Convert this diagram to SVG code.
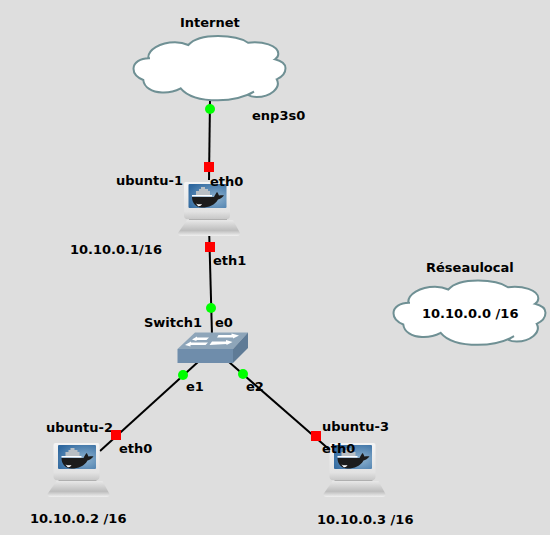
<svg xmlns="http://www.w3.org/2000/svg" width="550" height="535" viewBox="0 0 550 535">
<style>
text{font-family:"DejaVu Sans",sans-serif;font-weight:700;font-size:13px;fill:#000}
.cloud{fill:#fff;stroke:#6f9094;stroke-width:2}
.link{stroke:#000;stroke-width:2;fill:none}
.up{fill:#0f0}
.down{fill:#f00}
</style>
<defs>
<linearGradient id="lapBase" x1="0" y1="0" x2="0" y2="1"><stop offset="0" stop-color="#e8e8e8"/><stop offset=".65" stop-color="#bdbdbd"/><stop offset="1" stop-color="#f0f0f0"/></linearGradient>
<linearGradient id="lapFrame" x1="0" y1="0" x2="0" y2="1"><stop offset="0" stop-color="#f4f4f4"/><stop offset=".8" stop-color="#e2e2e2"/><stop offset="1" stop-color="#c8c8c8"/></linearGradient>
<radialGradient id="lapScreen" cx=".7" cy=".6" r=".8"><stop offset="0" stop-color="#8fb3cf"/><stop offset="1" stop-color="#2f689f"/></radialGradient>
<g id="laptop">
<path d="M189 216h38v5h-38z" fill="#b0b0b0"/>
<path d="M187 220h46l7 13q0 3-3 3h-56q-3 0-3-3z" fill="url(#lapBase)"/>
<path d="M186 182h42q2 0 2 2v32q0 2-2 3h-42q-2-1-2-3v-32q0-2 2-2z" fill="url(#lapFrame)"/>
<rect x="188.500" y="184" width="38" height="24" rx="1" fill="url(#lapScreen)"/>
<path d="M196 191h3v-2h2v-2h4v2h3v2h2v4h-14z" fill="#b9bfc4"/>
<path d="M192 195h20v1.500h-20z" fill="#fff"/>
<path d="M192 197H214C215 195 216 193 217 192C218 193 218.500 194.500 219 195.500C221 195 223 195 224 195.500C222 198 220 199 218 199.500C215 205 209 207.500 202 207.500C196 207.500 192 203 192 197Z" fill="#1c1c1c"/>
<path d="M196 203.500c2 1 4 1 6 .5c-1 2-3 2.500-4 2z" fill="#fff"/>
</g>
<path id="cloudShape" d="M148.300 58.300C147.500 50 160 42.300 175 42.300C181 42.300 185 43.500 188.300 45C194 38.500 205 36 218 36C231 36 242 38.500 248 42.700C262 41 278.500 45 278.300 54C278.300 56.500 277 58 275 59.300C282 61 285.500 64.500 285.500 68.300C285.500 73 282 77 276.700 79.300C281.500 88 270 97 256.700 97C253 97 250 96.300 248 95L254 91.700C245 97 232 100.300 218 100.300C200 100.300 187 96 180.700 88.300C175 91.300 168 92.800 162 92.500C152 92 144 87.500 143.300 80C137 77.500 133.500 73 133.500 68.800C133.500 62.500 140 58 150 58.300Z"/>
</defs>
<rect id="background" width="550" height="535" fill="#dedede"/>

<g id="connectors">
<path class="link" d="M210 100L209 180"/>
<path class="link" d="M209 226L212 335"/>
<path class="link" d="M198 362L100 451"/>
<path class="link" d="M229 362L331 451"/>
</g>

<g id="internet">
<use href="#cloudShape" class="cloud"/>
<text x="180" y="27">Internet</text>
</g>
<g id="ubuntu-1">
<use href="#laptop"/>
<text x="116" y="185">ubuntu-1</text>
<text x="70" y="254">10.10.0.1/16</text>
</g>
<g id="switch1">
<path d="M177.500 349L195 332.500H248L233 349Z" fill="#8ea5b9"/>
<path d="M177.500 349H233V363H177.500Z" fill="#6f8dab"/>
<path d="M233 349L248 332.500V348L233 363Z" fill="#5f7b96"/>
<path d="M185 345l6-3.500v1h17l-2.500 2.500h-15v1.500zM192 339.500l5-3v1h12l-2.500 2.500h-10v1zM217 337.500l1.500-2.500h13v-1.500l7.500 2-6 3v-1zM209.500 345l2.500-3.500h14v-1.500l6.500 2-6 3v-1z" fill="#fff"/>
<text x="144" y="327">Switch1</text>
</g>
<g id="reseaulocal">
<use href="#cloudShape" class="cloud" x="260" y="244.500"/>
<text x="426" y="272">Réseaulocal</text>
<text x="422" y="318">10.10.0.0 /16</text>
</g>
<g id="ubuntu-2">
<use href="#laptop" x="-130.500" y="261"/>
<text x="46" y="432">ubuntu-2</text>
<text x="30" y="523">10.10.0.2 /16</text>
</g>
<g id="ubuntu-3">
<use href="#laptop" x="145.500" y="261"/>
<text x="322" y="431">ubuntu-3</text>
<text x="317" y="524">10.10.0.3 /16</text>
</g>

<g id="ports">
<circle class="up" cx="210" cy="109" r="5"/>
<rect class="down" x="204" y="162" width="10" height="10"/>
<rect class="down" x="205" y="242" width="10" height="10"/>
<circle class="up" cx="211" cy="308" r="5"/>
<circle class="up" cx="183" cy="375" r="5"/>
<circle class="up" cx="243" cy="374" r="5"/>
<rect class="down" x="111" y="430" width="10" height="10"/>
<rect class="down" x="311" y="431" width="10" height="10"/>
<text x="252" y="120">enp3s0</text>
<text x="210" y="186">eth0</text>
<text x="213" y="265">eth1</text>
<text x="215" y="327">e0</text>
<text x="186" y="391">e1</text>
<text x="246" y="391">e2</text>
<text x="119" y="453">eth0</text>
<text x="322" y="453">eth0</text>
</g>
</svg>
